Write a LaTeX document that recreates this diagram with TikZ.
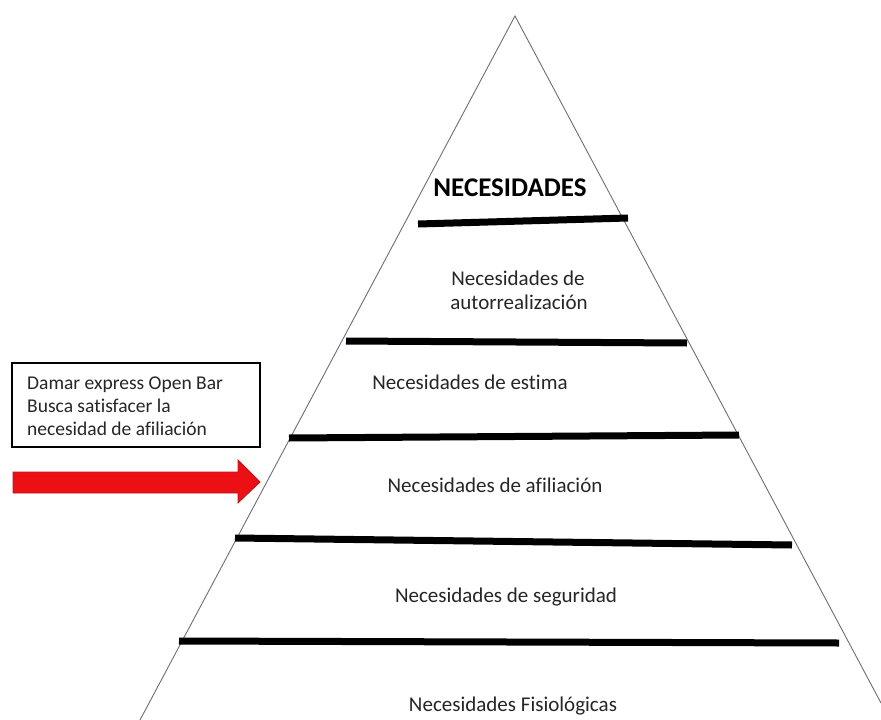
\documentclass[tikz,border=0pt]{standalone}
\usepackage{fontspec}
\setmainfont{Carlito}[Ligatures=NoCommon]
\definecolor{arrowred}{RGB}{236,16,20}
\definecolor{arrowedge}{RGB}{190,20,30}
\definecolor{edgegray}{RGB}{110,110,120}
\begin{document}
\begin{tikzpicture}[x=1pt,y=-1pt,
  bar/.style={line width=7pt,line cap=butt,black},
  side/.style={line width=0.9pt,edgegray},
  lvl/.style={anchor=base,inner sep=0pt,font=\fontsize{21}{23}\selectfont,text=black!85},
  boxtxt/.style={anchor=base west,inner sep=0pt,font=\fontsize{19.5}{23}\selectfont,text=black!85}]
\useasboundingbox[fill=white] (0,0) rectangle (881,720);
% pyramid sides
\coordinate (apex) at (515,16);
\coordinate (bl) at (140,720);
\coordinate (br) at (881,703);
\draw[side] (bl) -- (apex) -- (br);
% bars
\coordinate (b1l) at (418,224); \coordinate (b1r) at (628,218);
\coordinate (b2l) at (346,341); \coordinate (b2r) at (687,343);
\coordinate (b3l) at (289,438); \coordinate (b3r) at (739,435);
\coordinate (b4l) at (235,538); \coordinate (b4r) at (792,545);
\coordinate (b5l) at (179,641); \coordinate (b5r) at (839,643);
\draw[bar] (b1l) -- (b1r);
\draw[bar] (b2l) -- (b2r);
\draw[bar] (b3l) -- (b3r);
\draw[bar] (b4l) -- (b4r);
\draw[bar] (b5l) -- (b5r);
% labels
\node[anchor=base,inner sep=0pt,font=\fontsize{27}{30}\selectfont\bfseries] (title) at (510,196) {NECESIDADES};
\node[lvl] (l1a) at (518,285) {Necesidades de};
\node[lvl] (l1b) at (519,309) {autorrealización};
\node[lvl] (l2) at (470,389) {Necesidades de estima};
\node[lvl] (l3) at (495,492) {Necesidades de afiliación};
\node[lvl] (l4) at (506,602) {Necesidades de seguridad};
\node[lvl] (l5) at (513,711) {Necesidades Fisiológicas};
% note box
\draw[line width=2pt,black] (12,363) rectangle (260,447);
\node[boxtxt] (n1) at (27,389) {Damar express Open Bar};
\node[boxtxt] (n2) at (27,412) {Busca satisfacer la};
\node[boxtxt] (n3) at (27,435) {necesidad de afiliación};
% red arrow
\fill[arrowred,draw=arrowedge,line width=0.8pt]
  (13,472) -- (238,472) -- (238,460) -- (260,482) -- (238,503) -- (238,493) -- (13,493) -- cycle;
\end{tikzpicture}
\end{document}
